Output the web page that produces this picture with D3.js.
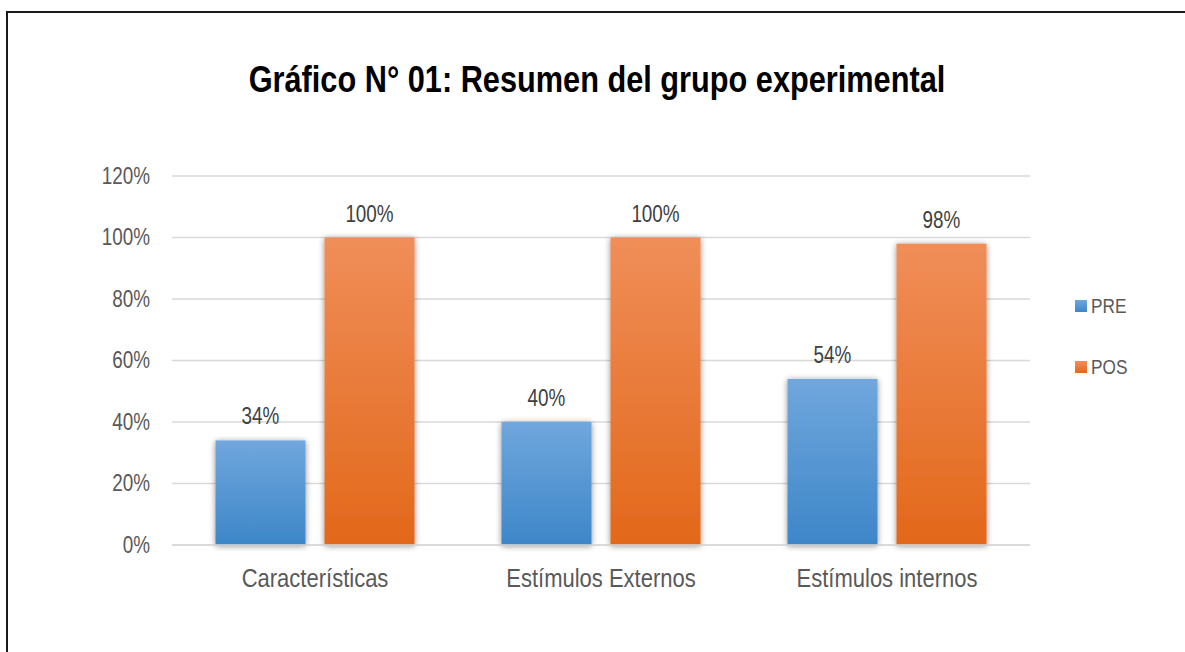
<!DOCTYPE html>
<html>
<head>
<meta charset="utf-8">
<script src="https://cdn.jsdelivr.net/npm/d3@7"></script>
<style>
  body { margin: 0; background: #fff; }
  svg text { font-family: "Liberation Sans Narrow", "Arial Narrow", "Liberation Sans", Arial, sans-serif; }
</style>
</head>
<body>
<svg id="chart" width="1185" height="652"></svg>
<script>
// ---------- data ----------
var categories = ["Características", "Estímulos Externos", "Estímulos internos"];
var seriesNames = ["PRE", "POS"];
var preValues = [0.34, 0.40, 0.54];
var posValues = [1.00, 1.00, 0.98];
var yTicks = [0, 0.2, 0.4, 0.6, 0.8, 1.0, 1.2];

var rows = categories.map(function(c, i){
    return { cat: c, PRE: preValues[i], POS: posValues[i] };
});

var svg = d3.select('#chart');

// squeeze text horizontally (no narrow font installed)
function narrow(sel, k){
    sel.each(function(){
        var w = this.getComputedTextLength();
        d3.select(this)
            .attr('textLength', w * k)
            .attr('lengthAdjust', 'spacingAndGlyphs');
    });
}

// outer frame (runs off the right/bottom edge like the picture)
svg.append('rect')
    .attr('x', 7).attr('y', 12)
    .attr('width', 1200).attr('height', 700)
    .attr('fill', 'none')
    .attr('stroke', '#1a1a1a')
    .attr('stroke-width', 2);

// gradients + shadow
var defs = svg.append('defs');
var grads = {
    PRE: ['#70a7dd', '#3d86c8'],
    POS: ['#f08e59', '#e2681a']
};
Object.keys(grads).forEach(function(k){
    var g = defs.append('linearGradient')
        .attr('id', 'grad' + k)
        .attr('x1', 0).attr('y1', 0).attr('x2', 0).attr('y2', 1);
    g.append('stop').attr('offset', '0%').attr('stop-color', grads[k][0]);
    g.append('stop').attr('offset', '100%').attr('stop-color', grads[k][1]);
});
var f = defs.append('filter').attr('id', 'shadow')
    .attr('x', '-20%').attr('y', '-5%').attr('width', '140%').attr('height', '110%');
f.append('feGaussianBlur').attr('in', 'SourceAlpha').attr('stdDeviation', 3).attr('result', 'b');
f.append('feOffset').attr('in', 'b').attr('dx', 0).attr('dy', 1).attr('result', 'o');
f.append('feComponentTransfer').attr('in', 'o').attr('result', 's')
    .append('feFuncA').attr('type', 'linear').attr('slope', 0.45);
var m = f.append('feMerge');
m.append('feMergeNode').attr('in', 's');
m.append('feMergeNode').attr('in', 'SourceGraphic');

// title
svg.append('text')
    .attr('x', 597).attr('y', 92)
    .attr('text-anchor', 'middle')
    .style('font-size', '37px')
    .style('font-weight', 'bold')
    .style('fill', '#000')
    .text('Gráfico N° 01: Resumen del grupo experimental')
    .call(narrow, 0.83);

// scales
var plotLeft = 172, plotRight = 1030;
var y = d3.scaleLinear().domain([0, 1.2]).range([545, 176]);
var x0 = d3.scaleBand().domain(categories).range([plotLeft, plotRight]);
var x1 = d3.scaleBand().domain(seriesNames)
    .range([0, x0.bandwidth()]).paddingInner(0.174).paddingOuter(0.399);

// gridlines
svg.append('g')
    .selectAll('line')
    .data(yTicks)
    .enter().append('line')
        .attr('x1', plotLeft).attr('x2', plotRight)
        .attr('y1', d => y(d)).attr('y2', d => y(d))
        .attr('stroke', '#d9d9d9')
        .attr('stroke-width', 1.5);

// y axis labels
var yAxis = d3.axisLeft(y).tickValues(yTicks)
    .tickFormat(d3.format('.0%')).tickSize(0).tickPadding(0);
var yg = svg.append('g')
    .attr('transform', 'translate(150,0)')
    .call(yAxis);
yg.select('.domain').remove();
yg.selectAll('text')
    .attr('font-family', null)
    .style('font-size', '23px')
    .style('fill', '#595959')
    .call(narrow, 0.82);

// bars
var groups = svg.append('g').selectAll('g.cat')
    .data(rows)
    .enter().append('g')
        .attr('class', 'cat')
        .attr('transform', d => 'translate(' + x0(d.cat) + ',0)');

var bars = groups.selectAll('g.bar')
    .data(d => seriesNames.map(k => ({ key: k, value: d[k] })))
    .enter().append('g').attr('class', 'bar');

bars.append('rect')
    .attr('x', d => x1(d.key))
    .attr('y', d => y(d.value))
    .attr('width', x1.bandwidth())
    .attr('height', d => y(0) - y(d.value))
    .attr('fill', d => 'url(#grad' + d.key + ')')
    .attr('filter', 'url(#shadow)');

bars.append('text')
    .attr('x', d => x1(d.key) + x1.bandwidth() / 2)
    .attr('y', d => y(d.value) - 16)
    .attr('text-anchor', 'middle')
    .style('font-size', '23px')
    .style('fill', '#404040')
    .text(d => d3.format('.0%')(d.value))
    .call(narrow, 0.82);

// x axis line + labels
svg.append('line')
    .attr('x1', plotLeft).attr('x2', plotRight)
    .attr('y1', y(0)).attr('y2', y(0))
    .attr('stroke', '#d9d9d9').attr('stroke-width', 1.5);

var xAxis = d3.axisBottom(x0).tickSize(0).tickPadding(0);
var xg = svg.append('g')
    .attr('transform', 'translate(0,' + (y(0) + 42) + ')')
    .call(xAxis);
xg.select('.domain').remove();
xg.selectAll('text')
    .attr('dy', 0)
    .attr('font-family', null)
    .style('font-size', '25px')
    .style('fill', '#595959')
    .call(narrow, 0.88);

// legend
var legend = svg.append('g').selectAll('g')
    .data(seriesNames)
    .enter().append('g')
        .attr('transform', (d, i) => 'translate(1075,' + (300 + i * 61) + ')');
legend.append('rect')
    .attr('width', 12).attr('height', 12)
    .attr('fill', d => 'url(#grad' + d + ')');
legend.append('text')
    .attr('x', 16).attr('y', 13)
    .style('font-size', '21px')
    .style('fill', '#595959')
    .text(d => d)
    .call(narrow, 0.82);
</script>
</body>
</html>
